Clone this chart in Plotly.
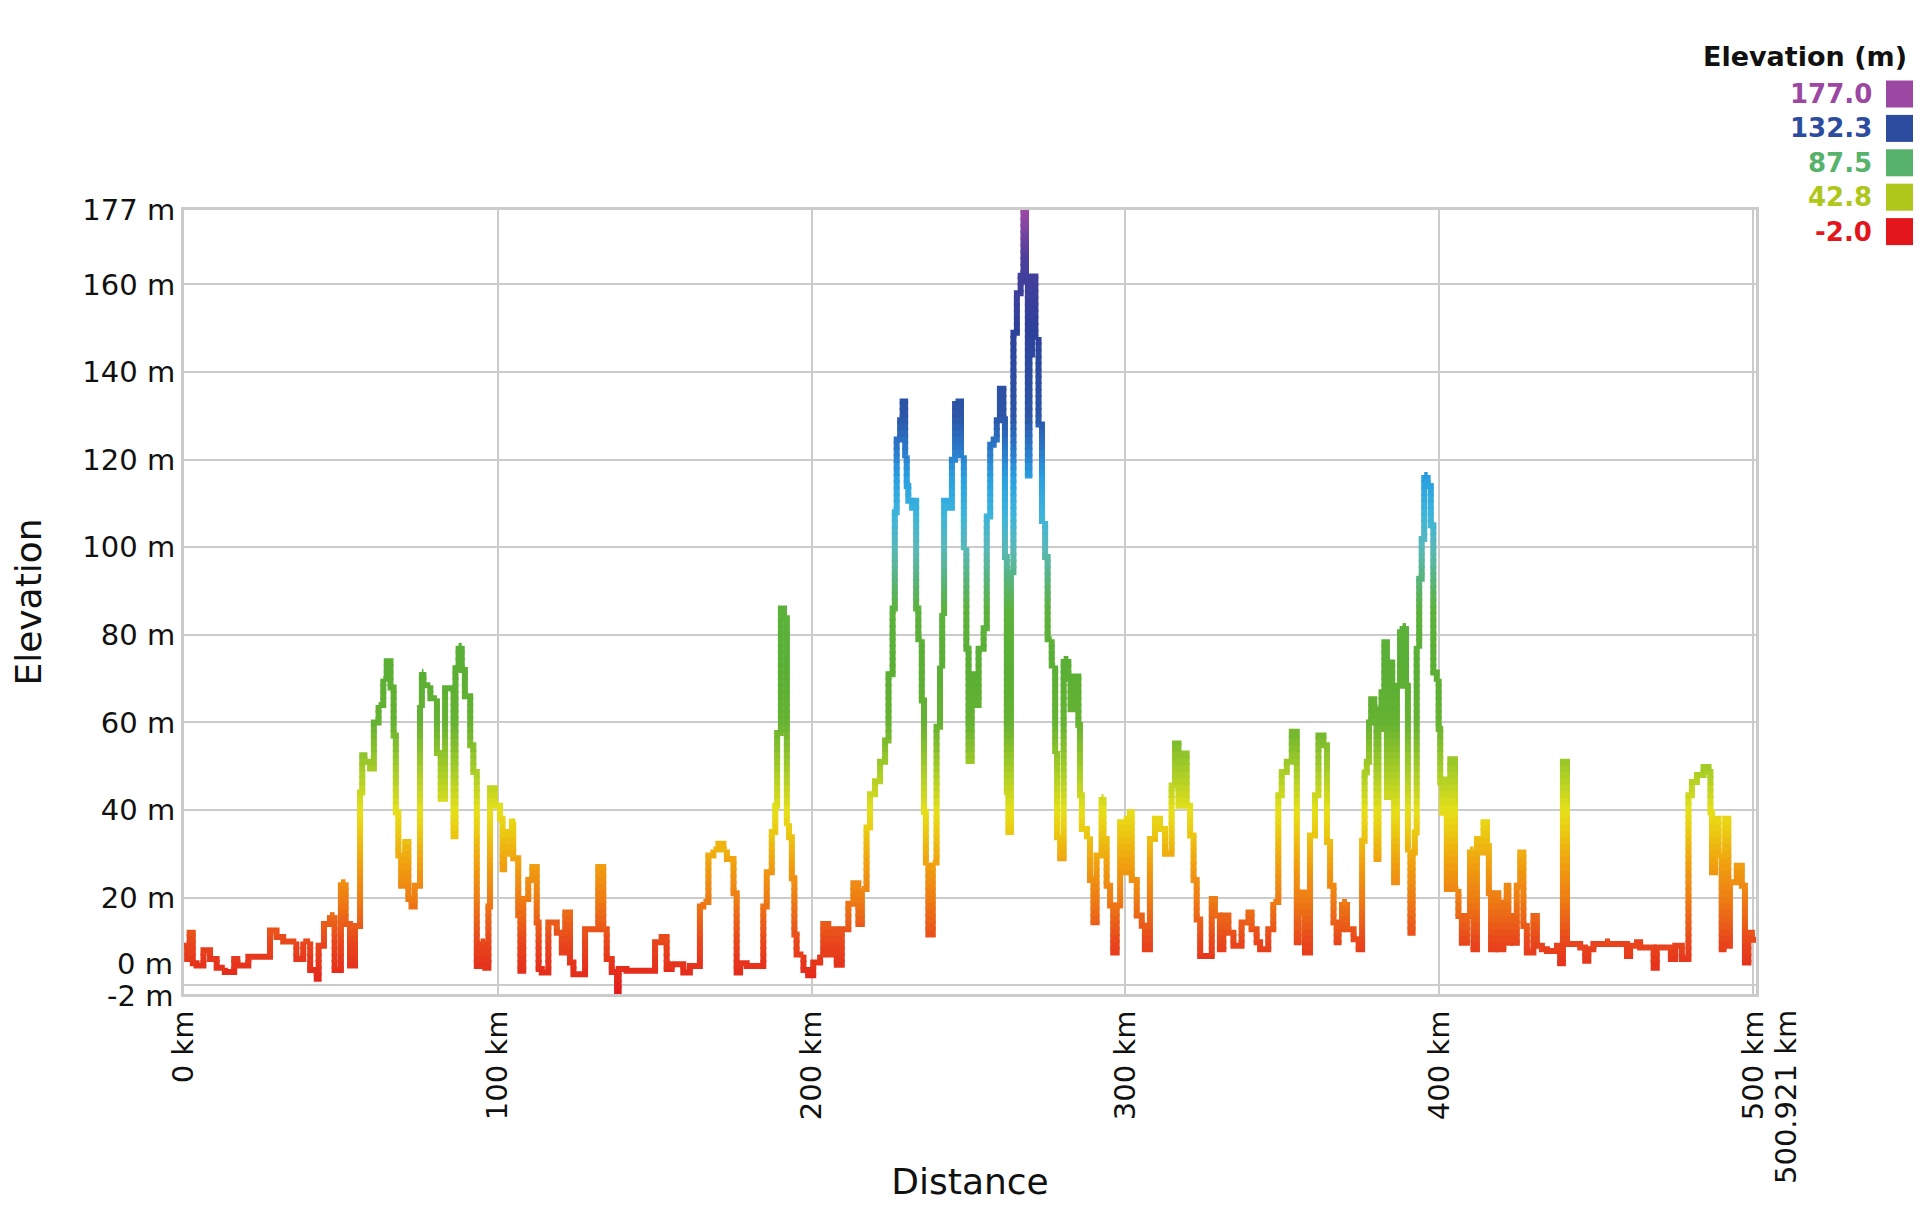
import math
import plotly.graph_objects as go

# ---------------- data ----------------
dist_km = [
    0, 1.0, 1.8, 2.8, 4.0, 6.2, 8.3, 10.4, 13.0, 16.0, 17.0, 20.5, 27.4, 29.5, 31.6, 35.8,
    38.0, 40.2, 42.3, 42.9, 44.6, 46.5, 48.0, 50.0, 51.5, 52.9, 54.5, 56.1, 56.8, 57.5,
    59.3, 60.5, 62.0, 63.5, 64.6, 65.8, 66.8, 67.5, 68.3, 69.2, 70.5, 71.5, 72.5, 73.5,
    75.2, 75.8, 76.3, 78.5, 80.6, 81.8, 83.2, 85.9, 86.5, 87.5, 88.5, 89.5, 91.2, 92.2,
    93.3, 94.5, 96.0, 97.0, 97.5, 99.1, 100.7, 101.5, 102.0, 103.9, 104.5, 104.9, 106.5,
    107.2, 108.1, 109.7, 111.0, 112.4, 113.0, 114.0, 116.1, 118.8, 120.4, 121.5, 123.0,
    124.1, 127.8, 130.4, 132.0, 133.6, 134.7, 136.3, 138.0, 138.5, 141.0, 150.1, 152.2,
    153.8, 155.4, 159.1, 161.2, 164.4, 165.5, 167.1, 168.7, 170.3, 171.9, 173.0, 175.1,
    176.1, 177.2, 179.3, 184.6, 185.7, 187.3, 188.4, 189.0, 190.2, 191.2, 192.1, 192.8,
    193.7, 194.5, 195.2, 197.4, 198.9, 200.5, 202.7, 203.7, 205.3, 206.4, 208.0, 209.6,
    211.7, 213.3, 214.9, 216.0, 217.5, 218.6, 220.2, 221.8, 223.4, 224.5, 225.8, 226.5,
    227.1, 228.2, 229.0, 229.8, 230.3, 230.8, 232.0, 232.6, 233.3, 234.0, 235.1, 235.8,
    236.4, 237.2, 238.6, 239.8, 240.9, 241.6, 242.2, 243.6, 244.7, 245.7, 246.8, 247.6,
    248.5, 249.3, 250.0, 251.0, 252.1, 253.2, 254.8, 255.8, 256.9, 258.0, 259.0, 260.0,
    261.1, 261.6, 262.2, 262.7, 263.5, 264.3, 265.4, 266.6, 267.5, 268.3, 268.9, 269.4,
    270.2, 271.3, 272.3, 273.4, 274.4, 275.2, 276.5, 277.6, 278.2, 279.2, 280.3, 281.8,
    282.5, 283.4, 285.0, 285.5, 286.1, 287.7, 288.7, 289.8, 290.8, 292.4, 293.0, 294.0,
    295.1, 296.1, 297.2, 298.3, 299.3, 300.4, 301.4, 302.0, 303.6, 305.2, 306.2, 307.8,
    309.4, 311.0, 312.6, 314.7, 315.8, 316.9, 317.9, 319.5, 320.6, 321.7, 322.7, 323.8,
    327.5, 328.5, 330.1, 331.2, 332.8, 334.4, 337.0, 339.2, 340.2, 341.8, 342.9, 345.5,
    347.1, 348.7, 349.8, 351.4, 353.0, 354.6, 355.2, 356.2, 357.2, 358.8, 360.4, 361.5,
    363.1, 364.2, 365.2, 366.3, 367.3, 367.9, 369.0, 370.6, 372.7, 374.3, 375.4, 376.2,
    376.9, 377.6, 378.3, 379.3, 380.0, 380.6, 381.6, 382.5, 383.3, 384.0, 385.0, 385.6,
    386.5, 387.5, 388.3, 389.4, 390.0, 390.8, 391.5, 392.2, 392.8, 393.6, 394.4, 395.2,
    396.3, 397.3, 398.1, 399.2, 399.8, 400.3, 400.9, 401.8, 402.4, 403.5, 405.0, 406.1,
    407.2, 408.8, 409.8, 410.9, 412.0, 413.0, 414.1, 415.2, 415.8, 416.5, 418.0, 418.8,
    420.4, 421.5, 422.0, 422.6, 423.6, 424.7, 425.8, 426.8, 427.9, 430.0, 431.1, 432.7,
    434.3, 437.5, 438.5, 439.4, 440.7, 442.7, 444.9, 446.5, 447.5, 449.1, 452.8, 454.4,
    459.8, 460.8, 463.0, 464.0, 468.3, 469.3, 473.8, 475.2, 477.3, 479.4, 480.5, 482.1,
    484.2, 485.8, 486.4, 486.9, 487.9, 489.0, 490.0, 490.6, 491.1, 492.1, 492.6, 494.8,
    496.4, 497.4, 498.5, 499.6, 500.921,
]
elev_m = [
    9, 6, 12, 5, 4.5, 8, 6, 4, 3, 6, 4.5, 6.5, 12.5, 11, 10, 6,
    10, 3.5, 1.5, 9, 14, 16, 3.5, 23.5, 14, 4.5, 13.5, 44, 52.5, 51,
    49.5, 60, 64, 70, 74, 68, 57, 39.5, 29.6, 22.7, 32.7, 19.7, 18, 22.7,
    64, 71.5, 68.5, 65.5, 53, 42.6, 67.8, 34, 72.4, 77.5, 72, 66, 54.8, 48.7,
    4.4, 10, 4, 18, 45, 41, 38, 26.5, 35, 30, 38, 29, 16,
    3.3, 19.7, 24, 27, 14.3, 3.7, 2.9, 14.3, 12, 7.5, 16.6, 5.2,
    2.5, 12.8, 12.8, 27, 12.8, 6, 3, -2, 3.7, 3.3, 9.8, 11,
    3.7, 4.8, 2.9, 4.4, 18, 19, 29.6, 31, 32.3, 31, 28.8, 21,
    2.9, 5, 4.4, 18, 25.8, 35, 41, 57.6, 86, 83.8, 37, 33.8,
    24.4, 11.6, 7, 3.5, 2.3, 5.2, 7, 14, 7, 12.8, 4.7, 12.8,
    18.6, 23.3, 14, 22, 36, 43.6, 46.6, 51, 55.9, 71, 86, 108,
    124.6, 129, 133.3, 121, 114, 110.6, 109, 110.6, 86, 79, 65, 39.6,
    28, 11.6, 28, 59, 73, 85, 110.6, 109, 120, 132.7, 133.3, 121,
    100, 76.8, 51.2, 71, 64, 76.8, 81.5, 107, 123.4, 124.6, 129, 136.2,
    129.2, 97.8, 44.2, 35, 94.3, 149, 158, 162, 177, 160.7, 116.4, 144,
    161.8, 148, 128, 106, 97.8, 79, 73, 53.5, 33.8, 29, 74.5, 70,
    63, 70.5, 59.4, 43.4, 35.7, 34, 24, 14.4, 29.6, 43, 33.4, 22.7,
    18.2, 7.5, 18.2, 37.2, 25.8, 38, 39.5, 24, 15.9, 13.6, 8.2, 33.4,
    38, 35.7, 30, 45.6, 55.2, 41, 52.9, 41, 34.2, 24, 15, 6.7,
    19.7, 15.9, 8.2, 15.9, 12, 9, 14.3, 16.6, 12.8, 9.8, 8.2, 12.8,
    19, 43.4, 48.7, 51, 57.9, 9.8, 16.6, 21.2, 7.5, 34.2, 43.4, 57,
    54.8, 32.7, 22.7, 14.3, 9.8, 12.8, 19, 12.8, 10.5, 8.2, 33, 48.6,
    51, 60, 65.3, 63, 28.8, 58.5, 66.9, 78.3, 43, 73.7, 63, 23.5,
    68.4, 80.6, 82, 68.4, 31, 12, 30.3, 34.9, 77.5, 92.8, 101.9, 116.5,
    114, 105, 71.4, 70, 58.5, 46.3, 39.4, 47, 22, 51.6, 22, 15.8,
    9.7, 15.8, 31, 8.2, 33.4, 30.3, 37.2, 31.8, 21, 8.2, 21, 8.2,
    18.9, 22.7, 9.7, 15.8, 9.7, 22.7, 30.3, 13.5, 7.5, 15.8, 9, 8.2,
    7.8, 9, 5, 51, 9.4, 9.4, 8.6, 5.6, 8.2, 9.4, 10, 9.4,
    6.7, 9, 9.8, 8.6, 4, 8.6, 6, 9, 6, 43.4, 46.4, 48,
    49.8, 48.7, 39.5, 25.8, 38, 29.6, 8.2, 29.6, 38, 9, 23.5, 27.3,
    22.7, 5.2, 12, 10.4, 10.4,
]

y_tick_vals = [-2, 0, 20, 40, 60, 80, 100, 120, 140, 160, 177]
x_tick_vals = [0, 100, 200, 300, 400, 500]
x_end_km = 500.921
legend_values = [177.0, 132.3, 87.5, 42.8, -2.0]
legend_colors = ["#9c48a2", "#2c4d9f", "#57b26c", "#afc61a", "#e3161c"]

# elevation colour ramp (elevation, colour)
ramp = [
    (-2, "#e31a1c"), (10, "#e8461c"), (20, "#ee7d14"), (28, "#f0a010"),
    (35, "#ecc812"), (40, "#e6df19"), (46, "#bcd423"), (52, "#96c62a"),
    (60, "#66b232"), (72, "#5aaf34"), (86, "#5cb23c"), (93, "#58b47c"),
    (100, "#5ab8b8"), (108, "#3cb4dc"), (116, "#2aa0e0"), (122, "#2a7ccc"),
    (130, "#2c56a8"), (150, "#2e409a"), (166, "#4a3f9c"), (177, "#9c48a4"),
]


def hex_rgb(h):
    h = h.lstrip("#")
    return tuple(int(h[i:i + 2], 16) for i in (0, 2, 4))


def ramp_color(v):
    if v <= ramp[0][0]:
        return ramp[0][1]
    for (a, ca), (b, cb) in zip(ramp[:-1], ramp[1:]):
        if v <= b:
            t = (v - a) / (b - a)
            r1, g1, b1 = hex_rgb(ca)
            r2, g2, b2 = hex_rgb(cb)
            return "rgb(%d,%d,%d)" % (round(r1 + (r2 - r1) * t), round(g1 + (g2 - g1) * t), round(b1 + (b2 - b1) * t))
    return ramp[-1][1]


# ---------------- build hv-step path, split into elevation bands ----------------
pts = [(dist_km[0], elev_m[0])]
for i in range(1, len(dist_km)):
    pts.append((dist_km[i], elev_m[i - 1]))
    pts.append((dist_km[i], elev_m[i]))

lo, hi, step = -2.0, 177.0, 1.5
nb = int(math.ceil((hi - lo) / step))
eps = 0.25  # small overlap between bands to hide anti-aliasing seams


def band(y):
    return min(nb - 1, max(0, int((y - lo) // step)))


bx = [[] for _ in range(nb)]
by = [[] for _ in range(nb)]
last = [None] * nb


def emit(b, p0, p1):
    if last[b] != p0:
        if bx[b]:
            bx[b].append(None)
            by[b].append(None)
        bx[b].append(p0[0])
        by[b].append(p0[1])
    bx[b].append(p1[0])
    by[b].append(p1[1])
    last[b] = p1


for (xa, ya), (xb, yb) in zip(pts[:-1], pts[1:]):
    if xa == xb and ya == yb:
        continue
    if ya == yb:
        emit(band(ya), (xa, ya), (xb, yb))
        continue
    s, e = min(ya, yb), max(ya, yb)
    cuts = [lo + k * step for k in range(nb + 1) if s < lo + k * step < e]
    up = yb > ya
    vals = [ya] + (cuts if up else cuts[::-1]) + [yb]
    n = len(vals) - 1
    for k, (u, v) in enumerate(zip(vals[:-1], vals[1:])):
        bb = band((u + v) / 2)
        d = eps if up else -eps
        u2 = u if k == 0 else u - d
        v2 = v if k == n - 1 else v + d
        emit(bb, (xa, u2), (xb, v2))

fig = go.Figure()
for b in range(nb):
    if not bx[b]:
        continue
    fig.add_trace(go.Scatter(
        x=bx[b], y=by[b], mode="lines",
        line=dict(color=ramp_color(lo + (b + 0.5) * step), width=6),
        hoverinfo="skip", showlegend=False,
    ))

# ---------------- layout ----------------
W, H = 1920, 1205
L, R, T, B = 184, 164, 210, 211
FONT = "DejaVu Sans"
TXT = "#111111"


def pxx(px):
    return (px - L) / (W - L - R)


def pxy(py):
    return (H - B - py) / (H - T - B)


fig.update_layout(
    width=W, height=H,
    margin=dict(l=L, r=R, t=T, b=B, autoexpand=False),
    paper_bgcolor="white", plot_bgcolor="white",
    font=dict(family=FONT, size=29, color=TXT),
    showlegend=False,
)
fig.update_xaxes(
    range=[0, x_end_km],
    tickvals=x_tick_vals + [x_end_km],
    ticktext=["%d km" % v for v in x_tick_vals] + [""],
    tickangle=-90, ticks="", ticklabelstandoff=2,
    showgrid=True, gridcolor="#cbcbcb", gridwidth=2,
    showline=True, linecolor="#cbcbcb", linewidth=3, mirror=True,
    zeroline=False,
    title=dict(text="Distance", font=dict(size=36, family=FONT, color=TXT), standoff=50),
    automargin=False,
)
fig.update_yaxes(
    range=[-2, 177],
    tickvals=y_tick_vals,
    ticktext=["%d m" % v if v > 0 else " " for v in y_tick_vals],
    ticks="", ticklabelstandoff=0,
    showgrid=True, gridcolor="#cbcbcb", gridwidth=2,
    showline=True, linecolor="#cbcbcb", linewidth=3, mirror=True,
    zeroline=False,
    title=dict(text="Elevation", font=dict(size=36, family=FONT, color=TXT), standoff=30),
    automargin=False,
)

ann = []
# the two crowded labels at the bottom of the elevation axis
ann.append(dict(x=0, xref="paper", y=0, yref="y", text="0 m", showarrow=False,
                xanchor="right", yanchor="middle", xshift=-9, yshift=21,
                font=dict(size=29, family=FONT, color=TXT)))
ann.append(dict(x=0, xref="paper", y=-2, yref="y", text="-2 m", showarrow=False,
                xanchor="right", yanchor="middle", xshift=-9, yshift=-2,
                font=dict(size=29, family=FONT, color=TXT)))
# end-of-route label, set beside the 500 km label
ann.append(dict(x=pxx(1786), xref="paper", y=pxy(1097), yref="paper", text="%.3f km" % x_end_km,
                textangle=-90, showarrow=False, xanchor="center", yanchor="middle",
                font=dict(size=29, family=FONT, color=TXT)))
# legend
ann.append(dict(x=pxx(1909), xref="paper", y=pxy(57), yref="paper", text="<b>Elevation (m)</b>",
                showarrow=False, xanchor="right", yanchor="middle",
                font=dict(size=27, family=FONT, color=TXT)))
shapes = []
for i, (val, col) in enumerate(zip(legend_values, legend_colors)):
    cy = 94 + i * 34.4
    ann.append(dict(x=pxx(1874), xref="paper", y=pxy(cy), yref="paper", text="<b>%.1f</b>" % val,
                    showarrow=False, xanchor="right", yanchor="middle",
                    font=dict(size=26, family=FONT, color=col)))
    shapes.append(dict(type="rect", xref="paper", yref="paper",
                       x0=pxx(1886), x1=pxx(1913), y0=pxy(cy + 13.5), y1=pxy(cy - 13.5),
                       fillcolor=col, line=dict(width=0)))
fig.update_layout(annotations=ann, shapes=shapes)

fig.write_html("out.html")
